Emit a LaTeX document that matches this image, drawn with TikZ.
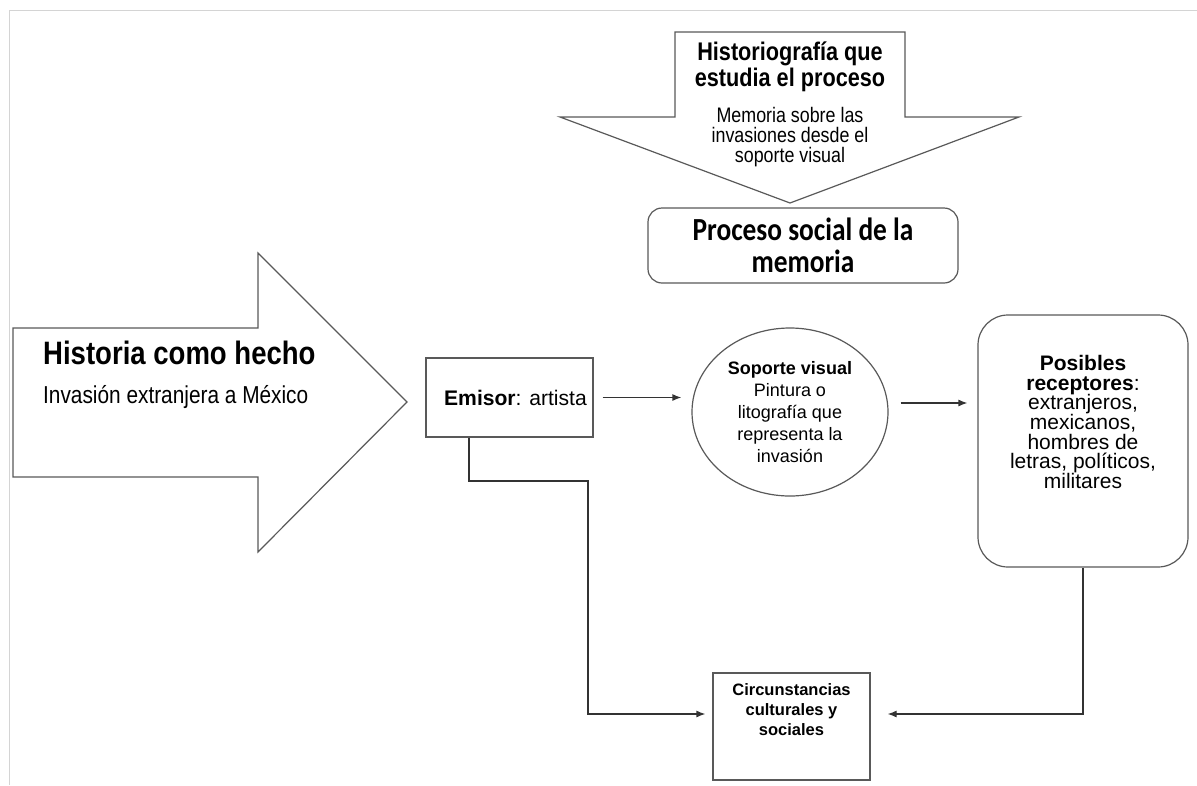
\documentclass[tikz,border=0pt]{standalone}
\usepackage{fontspec}
\setmainfont{Liberation Sans}
\newfontfamily\angosta{Liberation Sans}[FakeStretch=0.85]
\newfontfamily\calibrina{Carlito}[FakeStretch=0.85]
\usetikzlibrary{shapes.geometric, arrows.meta, positioning, calc}
\definecolor{trazo}{HTML}{595959}
\definecolor{marco}{HTML}{D4D4D4}
\newcommand{\tamano}[2]{\fontsize{#1}{#2}\selectfont\lineskiplimit=-60pt\relax}
\tikzset{
  flecha/.style={draw=trazo, line width=1.2pt, fill=white, line join=miter},
  caja/.style={rectangle, draw=trazo, line width=1.2pt, fill=white, align=center, inner sep=0pt},
  cajar/.style={caja, rounded corners=14pt},
  ovalo/.style={ellipse, draw=trazo, line width=1.2pt, fill=white, align=center, inner sep=0pt},
  texto/.style={inner sep=0pt, align=center},
  arrow/.style={line width=1.2pt, draw=black!80, -{Latex[length=9pt,width=7pt]}}
}

\begin{document}
\begin{tikzpicture}[x=1pt, y=-1pt]
  \useasboundingbox (0,0) rectangle (1197,785);
  % marco de la pagina
  \draw[marco, line width=1pt] (9,785) -- (9,10) -- (1197,10);

  % flecha grande
  \draw[flecha] (13,328) -- (258,328) -- (258,253) -- (407,402) -- (258,552) -- (258,477) -- (13,477) -- cycle;
  \node[texto, anchor=base west, font=\angosta\tamano{32.4}{38}\bfseries] (hecho) at (43,364) {Historia como hecho};
  \node[texto, anchor=base west, font=\angosta\tamano{24.5}{29}] (invasion) at (43,403) {Invasión extranjera a México};

  % flecha de arriba
  \draw[flecha] (675,32) -- (905,32) -- (905,117) -- (1019,117) -- (790,203) -- (560,117) -- (675,117) -- cycle;
  \node[texto, font=\angosta\tamano{25.5}{25.5}\bfseries] (historiografia) at (790,67) {Historiografía que\\estudia el proceso};
  \node[texto, font=\angosta\tamano{21}{20}] (memoria) at (790,137) {Memoria sobre las\\invasiones desde el\\soporte visual};

  \node[cajar, minimum width=310pt, minimum height=75pt, font=\calibrina\tamano{32.2}{32}\bfseries] (proceso) at (803,245.5) {Proceso social de la\\memoria};

  % cadena de comunicacion
  \node[caja, minimum width=167pt, minimum height=79pt, font=\tamano{21.1}{26}] (emisor) at (509.5,397.5) {\hspace*{12pt}\textbf{Emisor}: artista};
  \node[ovalo, minimum width=196pt, minimum height=168pt, font=\tamano{18}{22}] (soporte) at (790,412) {\textbf{Soporte visual}\\Pintura o\\litografía que\\representa la\\invasión};
  \node[cajar, rounded corners=30pt, minimum width=210pt, minimum height=252pt] (receptores) at (1083,441) {};
  \node[texto, font=\tamano{21}{19.6}] (receptorestxt) at (1083,422) {\textbf{Posibles}\\\textbf{receptores}:\\extranjeros,\\mexicanos,\\hombres de\\letras, políticos,\\militares};
  \node[caja, minimum width=157pt, minimum height=107pt] (circ) at (791.5,726.5) {};
  \node[texto, font=\tamano{16.5}{20}\bfseries] (circtxt) at (791.5,710) {Circunstancias\\culturales y\\sociales};

  \coordinate (codo) at (588,481);
  \draw[arrow, shorten <=9pt, shorten >=10pt] (emisor.east) -- (emisor.east -| soporte.west);
  \draw[arrow, shorten <=12pt, shorten >=10pt] ([yshift=9pt]soporte.east) -- ([yshift=9pt]soporte.east -| receptores.west);
  \draw[arrow, shorten >=7pt] ([xshift=-40.5pt]emisor.south) |- (codo) |- ([yshift=12.5pt]circ.west);
  \draw[arrow, shorten >=17pt] (receptores.south) |- ([yshift=12.5pt]circ.east);
\end{tikzpicture}
\end{document}
